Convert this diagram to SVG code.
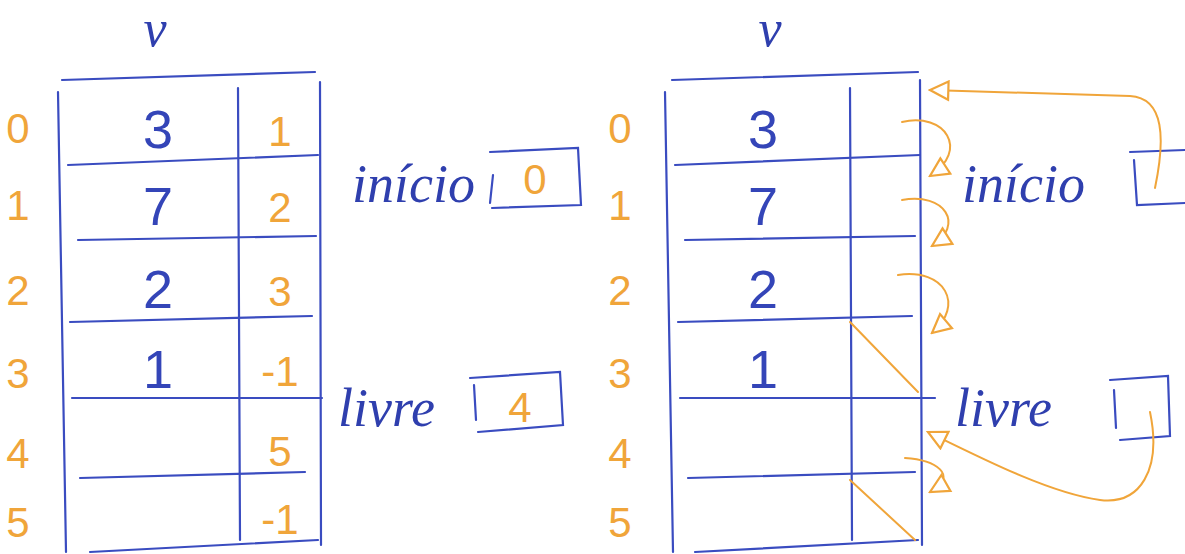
<svg xmlns="http://www.w3.org/2000/svg" width="1185" height="554" viewBox="0 0 1185 554">
<defs>
<style>
.b{stroke:#3a4cc0;stroke-width:2.2;fill:none;stroke-linecap:round}
.o{stroke:#f0a53a;stroke-width:2;fill:none;stroke-linecap:round}
.tb{fill:#3445b8;font-family:"Liberation Sans",sans-serif;font-size:54px;text-anchor:middle}
.to{fill:#f0a53a;font-family:"Liberation Sans",sans-serif;font-size:42px;text-anchor:middle}
.lbl{fill:#2f3fae;font-family:"Liberation Serif",serif;font-style:italic;font-size:54px}
.v{fill:#2f3fae;font-family:"Liberation Serif",serif;font-style:italic;font-size:52px;text-anchor:middle}
</style>
<marker id="ah" viewBox="0 0 12 12" refX="11" refY="6" markerWidth="22" markerHeight="22" markerUnits="userSpaceOnUse" orient="auto">
<path d="M1,1 L11,6 L1,11 Z" fill="#fff" stroke="#f0a53a" stroke-width="1.2"/>
</marker>
</defs>
<rect width="1185" height="554" fill="#fff"/>

<g id="left-table">
<text class="v" x="155" y="46">v</text>
<path class="b" d="M62,80 L315,72"/>
<path class="b" d="M58,92 L66,552"/>
<path class="b" d="M320,82 L321,545"/>
<path class="b" d="M238,88 L240,540"/>
<path class="b" d="M68,165 L318,155"/>
<path class="b" d="M78,240 L316,236"/>
<path class="b" d="M70,322 L312,316"/>
<path class="b" d="M72,398 L322,398"/>
<path class="b" d="M80,478 L305,472"/>
<path class="b" d="M90,552 L318,540"/>
<g class="to"><text x="18" y="143">0</text><text x="18" y="220">1</text><text x="18" y="305">2</text><text x="18" y="388">3</text><text x="18" y="468">4</text><text x="18" y="537">5</text></g>
<g class="tb"><text x="158" y="148">3</text><text x="158" y="225">7</text><text x="158" y="308">2</text><text x="158" y="388">1</text></g>
<g class="to"><text x="280" y="146">1</text><text x="280" y="222">2</text><text x="280" y="306">3</text><text x="280" y="386">-1</text><text x="280" y="466">5</text><text x="280" y="534">-1</text></g>
</g>

<g id="left-inicio">
<text class="lbl" x="352" y="202">início</text>
<path class="b" d="M490,152 L578,148 L581,205 L492,208 M493,175 L490,203"/>
<text class="to" x="535" y="194">0</text>
</g>
<g id="left-livre">
<text class="lbl" x="338" y="426">livre</text>
<path class="b" d="M470,378 L560,372 L563,425 L478,432 M474,385 L476,420"/>
<text class="to" x="520" y="422">4</text>
</g>

<g id="right-table">
<text class="v" x="770" y="46">v</text>
<path class="b" d="M672,80 L918,72"/>
<path class="b" d="M665,92 L673,552"/>
<path class="b" d="M920,80 L922,545"/>
<path class="b" d="M850,88 L852,540"/>
<path class="b" d="M675,165 L920,155"/>
<path class="b" d="M685,240 L915,236"/>
<path class="b" d="M678,322 L912,316"/>
<path class="b" d="M680,398 L935,398"/>
<path class="b" d="M688,478 L915,472"/>
<path class="b" d="M695,552 L918,540"/>
<g class="to"><text x="620" y="143">0</text><text x="620" y="220">1</text><text x="620" y="305">2</text><text x="620" y="388">3</text><text x="620" y="468">4</text><text x="620" y="537">5</text></g>
<g class="tb"><text x="763" y="148">3</text><text x="763" y="225">7</text><text x="763" y="308">2</text><text x="763" y="388">1</text></g>
<path class="o" d="M850,322 L918,392"/>
<path class="o" d="M850,480 L915,540"/>
</g>

<g id="right-inicio">
<text class="lbl" x="962" y="202">início</text>
<path class="b" d="M1130,152 L1185,150 M1134,160 L1137,205 L1185,203"/>
</g>
<g id="right-livre">
<text class="lbl" x="955" y="426">livre</text>
<path class="b" d="M1110,380 L1168,376 L1170,436 L1120,440 M1114,390 L1116,428"/>
</g>

<g id="connectors">
<path class="o" d="M1155,188 C1165,140 1165,98 1130,96 L930,90" marker-end="url(#ah)"/>
<path class="o" d="M902,122 C945,112 970,150 930,176" marker-end="url(#ah)"/>
<path class="o" d="M902,200 C945,192 965,225 932,246" marker-end="url(#ah)"/>
<path class="o" d="M898,275 C945,268 965,305 932,333" marker-end="url(#ah)"/>
<path class="o" d="M905,458 C935,460 960,475 930,492" marker-end="url(#ah)"/>
<path class="o" d="M1150,412 C1162,470 1140,505 1100,500 C1050,493 985,460 928,432" marker-end="url(#ah)"/>
</g>
</svg>
